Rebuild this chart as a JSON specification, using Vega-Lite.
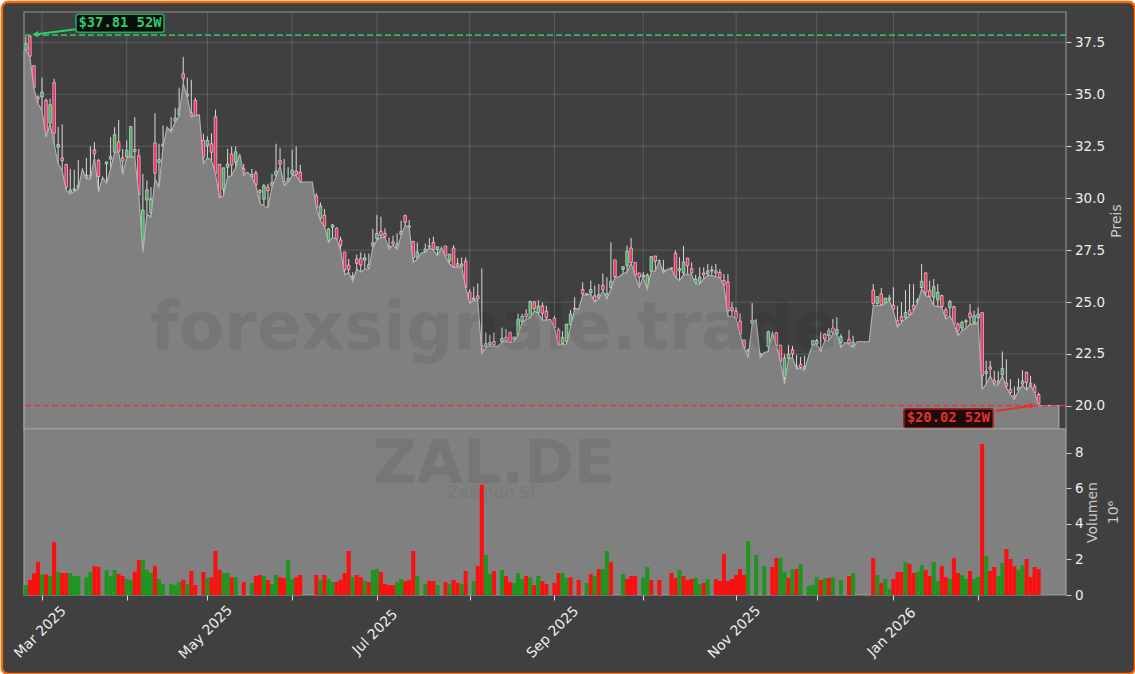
{
"$schema":"https://vega.github.io/schema/vega-lite/v6.json",
"background":"#ffffff",
"padding":0,
"spacing":0,
"bounds":"flush",
"config":{"view":{"stroke":null},"font":"DejaVu Sans"},
"datasets":{"days":[
{"i":-0.46,"l":37.12},
{"i":0,"o":37.12,"h":37.79,"l":37.12,"c":37.44,"v":0.56,"d":"up"},
{"i":1,"o":37.79,"h":37.81,"l":36.8,"c":36.83,"v":0.85,"d":"down"},
{"i":2,"o":36.38,"h":36.4,"l":35.27,"c":35.32,"v":1.22,"d":"down"},
{"i":3,"o":34.87,"h":34.95,"l":34.55,"c":34.77,"v":1.86,"d":"down"},
{"i":4,"o":34.87,"h":35.8,"l":34.22,"c":35.11,"v":1.16,"d":"up"},
{"i":5,"o":34.71,"h":34.79,"l":32.94,"c":32.94,"v":1.16,"d":"down"},
{"i":6,"o":33.61,"h":34.79,"l":33.58,"c":34.5,"v":1.07,"d":"up"},
{"i":7,"o":35.56,"h":35.75,"l":32.62,"c":33.13,"v":2.98,"d":"down"},
{"i":8,"o":32.45,"h":33.42,"l":31.65,"c":32.58,"v":1.3,"d":"up"},
{"i":9,"o":31.94,"h":33.55,"l":31.33,"c":31.81,"v":1.24,"d":"down"},
{"i":10,"o":31.62,"h":31.65,"l":30.36,"c":30.53,"v":1.24,"d":"down"},
{"i":11,"o":30.3,"h":31.41,"l":30.2,"c":30.4,"v":1.24,"d":"up"},
{"i":12,"o":30.38,"h":31.36,"l":30.33,"c":30.45,"v":1.07,"d":"up"},
{"i":13,"o":30.5,"h":31.84,"l":30.44,"c":30.62,"v":1.07,"d":"up"},
{"i":14,"l":31.41},
{"i":15,"o":31,"h":31.94,"l":30.93,"c":31.1,"v":1,"d":"up"},
{"i":16,"o":31,"h":32.49,"l":30.93,"c":31.1,"v":1.3,"d":"up"},
{"i":17,"o":32.33,"h":32.7,"l":31.97,"c":32.13,"v":1.63,"d":"down"},
{"i":18,"o":31.81,"h":31.89,"l":30.28,"c":31.04,"v":1.58,"d":"down"},
{"i":19,"l":31.01},
{"i":20,"o":31.65,"h":31.75,"l":30.72,"c":31.75,"v":1.41,"d":"up"},
{"i":21,"o":31.88,"h":32.94,"l":31.41,"c":32,"v":1.07,"d":"up"},
{"i":22,"o":32.21,"h":33.42,"l":32.21,"c":33.05,"v":1.41,"d":"up"},
{"i":23,"o":32.71,"h":33.77,"l":32.21,"c":32.26,"v":1.18,"d":"down"},
{"i":24,"o":31.94,"h":32.37,"l":31.14,"c":31.78,"v":1.07,"d":"down"},
{"i":25,"o":32,"h":32.78,"l":31.97,"c":32.29,"v":0.9,"d":"up"},
{"i":26,"o":32,"h":33.45,"l":32,"c":33.45,"v":0.85,"d":"up"},
{"i":27,"o":32.34,"h":33.9,"l":31.97,"c":32.25,"v":1.3,"d":"down"},
{"i":28,"o":32.04,"h":32.37,"l":30.12,"c":30.16,"v":1.97,"d":"down"},
{"i":29,"o":27.98,"h":31.17,"l":27.39,"c":29.43,"v":1.97,"d":"up"},
{"i":30,"o":29.91,"h":30.85,"l":29.24,"c":30.4,"v":1.41,"d":"up"},
{"i":31,"o":29.29,"h":30.53,"l":29.08,"c":29.96,"v":1.24,"d":"up"},
{"i":32,"o":32.66,"h":34.09,"l":30.93,"c":31.2,"v":1.63,"d":"down"},
{"i":33,"o":31.73,"h":32.62,"l":30.53,"c":31.86,"v":0.9,"d":"up"},
{"i":34,"o":32.5,"h":33.5,"l":32.45,"c":32.6,"v":0.62,"d":"up"},
{"i":35,"l":33.42},
{"i":36,"o":33.2,"h":33.9,"l":33.18,"c":33.3,"v":0.62,"d":"up"},
{"i":37,"o":33.7,"h":34.35,"l":33.66,"c":33.85,"v":0.56,"d":"up"},
{"i":38,"o":34,"h":35.32,"l":33.98,"c":34.3,"v":0.73,"d":"up"},
{"i":39,"o":35.99,"h":36.8,"l":35.51,"c":35.75,"v":0.85,"d":"down"},
{"i":40,"o":34.9,"h":35.8,"l":34.87,"c":35,"v":0.62,"d":"up"},
{"i":41,"o":34.1,"h":35.7,"l":33.9,"c":33.95,"v":1.35,"d":"down"},
{"i":42,"o":34.71,"h":34.83,"l":33.98,"c":33.98,"v":0.56,"d":"down"},
{"i":43,"l":34.01},
{"i":44,"o":32.78,"h":33.1,"l":31.68,"c":31.97,"v":1.3,"d":"down"},
{"i":45,"o":32.52,"h":32.97,"l":31.94,"c":32.78,"v":0.96,"d":"up"},
{"i":46,"o":32.62,"h":33.13,"l":31.81,"c":32.21,"v":1,"d":"down"},
{"i":47,"o":33.92,"h":34.26,"l":31.17,"c":31.17,"v":2.48,"d":"down"},
{"i":48,"o":31.62,"h":31.65,"l":30.01,"c":30.09,"v":1.41,"d":"down"},
{"i":49,"o":30.44,"h":31.46,"l":30.12,"c":31.46,"v":1.24,"d":"up"},
{"i":50,"o":31.49,"h":32.37,"l":31.01,"c":31.65,"v":1.24,"d":"up"},
{"i":51,"o":32.13,"h":32.49,"l":31.09,"c":31.59,"v":1,"d":"down"},
{"i":52,"o":31.73,"h":32.49,"l":31.49,"c":32.23,"v":1,"d":"up"},
{"i":53,"l":32.13},
{"i":54,"o":31.41,"h":31.65,"l":31.09,"c":31.22,"v":0.73,"d":"down"},
{"i":55,"l":31.25},
{"i":56,"o":31.01,"h":31.41,"l":31.01,"c":31.14,"v":0.68,"d":"up"},
{"i":57,"o":31.22,"h":31.33,"l":30.62,"c":30.62,"v":1.07,"d":"down"},
{"i":58,"o":30.36,"h":30.44,"l":29.75,"c":30.28,"v":1.13,"d":"down"},
{"i":59,"o":29.95,"h":30.69,"l":29.64,"c":30.59,"v":1.07,"d":"up"},
{"i":60,"o":30.53,"h":30.69,"l":29.53,"c":30.36,"v":0.85,"d":"down"},
{"i":61,"o":30.6,"h":31.17,"l":30.53,"c":30.75,"v":0.62,"d":"up"},
{"i":62,"o":31.1,"h":32.62,"l":31.01,"c":31.3,"v":1.13,"d":"up"},
{"i":63,"o":31.8,"h":32.41,"l":31.57,"c":31.65,"v":1,"d":"down"},
{"i":64,"o":30.8,"h":31.89,"l":30.61,"c":30.65,"v":0.96,"d":"down"},
{"i":65,"o":30.8,"h":31.49,"l":30.77,"c":30.95,"v":1.97,"d":"up"},
{"i":66,"o":31.15,"h":32.33,"l":31.09,"c":31.35,"v":0.9,"d":"up"},
{"i":67,"o":31.3,"h":32.49,"l":31.09,"c":31.15,"v":1,"d":"down"},
{"i":68,"o":31.25,"h":31.6,"l":30.77,"c":30.77,"v":1.13,"d":"down"},
{"i":69,"l":30.78},
{"i":70,"l":30.78},
{"i":71,"l":30.78},
{"i":72,"o":30.11,"h":30.24,"l":29.51,"c":29.51,"v":1.13,"d":"down"},
{"i":73,"o":29.03,"h":29.8,"l":28.92,"c":29.63,"v":0.85,"d":"up"},
{"i":74,"o":29.19,"h":29.48,"l":28.65,"c":28.65,"v":1.13,"d":"down"},
{"i":75,"o":27.95,"h":28.56,"l":27.87,"c":28.52,"v":0.9,"d":"up"},
{"i":76,"o":28.6,"h":28.76,"l":28.11,"c":28.71,"v":0.73,"d":"up"},
{"i":77,"o":28.56,"h":28.6,"l":28.03,"c":28.03,"v":0.73,"d":"down"},
{"i":78,"o":27.99,"h":28.15,"l":27.5,"c":27.73,"v":0.85,"d":"down"},
{"i":79,"o":27.41,"h":27.41,"l":26.31,"c":26.54,"v":1.24,"d":"down"},
{"i":80,"o":26.78,"h":27.07,"l":26.43,"c":26.57,"v":2.48,"d":"down"},
{"i":81,"o":26.2,"h":26.43,"l":25.99,"c":26.25,"v":1,"d":"up"},
{"i":82,"o":27.07,"h":27.28,"l":26.59,"c":26.86,"v":1.13,"d":"down"},
{"i":83,"o":27.1,"h":27.39,"l":26.44,"c":26.78,"v":1,"d":"down"},
{"i":84,"o":27.02,"h":27.34,"l":26.59,"c":27.13,"v":0.8,"d":"up"},
{"i":85,"o":26.8,"h":27.34,"l":26.59,"c":26.65,"v":0.73,"d":"down"},
{"i":86,"o":27.7,"h":28.52,"l":27.63,"c":27.85,"v":1.41,"d":"up"},
{"i":87,"o":28.05,"h":29.19,"l":27.99,"c":28.3,"v":1.47,"d":"up"},
{"i":88,"o":28.4,"h":29.11,"l":28.11,"c":28.2,"v":1.3,"d":"down"},
{"i":89,"o":28.3,"h":28.55,"l":28.11,"c":28.15,"v":0.62,"d":"down"},
{"i":90,"o":27.7,"h":28.11,"l":27.55,"c":27.6,"v":0.56,"d":"down"},
{"i":91,"o":27.9,"h":28.2,"l":27.76,"c":27.8,"v":0.56,"d":"down"},
{"i":92,"o":27.6,"h":28.31,"l":27.55,"c":27.8,"v":0.73,"d":"up"},
{"i":93,"o":28.25,"h":28.92,"l":28.2,"c":28.4,"v":0.9,"d":"up"},
{"i":94,"o":29.16,"h":29.21,"l":28.68,"c":28.84,"v":0.79,"d":"down"},
{"i":95,"o":28.66,"h":28.95,"l":28.6,"c":28.6,"v":0.85,"d":"down"},
{"i":96,"o":27.91,"h":27.95,"l":26.91,"c":27.12,"v":2.48,"d":"down"},
{"i":97,"o":27.15,"h":27.87,"l":27.07,"c":27.41,"v":1.07,"d":"up"},
{"i":98,"l":27.36},
{"i":99,"o":27.4,"h":27.82,"l":27.39,"c":27.55,"v":0.62,"d":"up"},
{"i":100,"o":27.7,"h":28.08,"l":27.6,"c":27.65,"v":0.79,"d":"down"},
{"i":101,"o":27.87,"h":28.15,"l":27.5,"c":27.53,"v":0.79,"d":"down"},
{"i":102,"o":27.53,"h":27.66,"l":27.23,"c":27.66,"v":0.56,"d":"up"},
{"i":103,"l":27.63},
{"i":104,"o":27.7,"h":27.7,"l":27.18,"c":27.21,"v":0.73,"d":"down"},
{"i":105,"o":26.99,"h":27.31,"l":26.83,"c":27.31,"v":0.62,"d":"up"},
{"i":106,"o":27.6,"h":27.74,"l":26.67,"c":26.7,"v":0.85,"d":"down"},
{"i":107,"o":26.85,"h":27.12,"l":26.67,"c":26.75,"v":0.68,"d":"down"},
{"i":108,"o":26.72,"h":27.15,"l":26.7,"c":26.83,"v":0.62,"d":"up"},
{"i":109,"o":26.97,"h":27.15,"l":25.7,"c":25.7,"v":1.35,"d":"down"},
{"i":110,"o":25.48,"h":25.62,"l":24.95,"c":24.95},
{"i":111,"o":25.1,"h":25.73,"l":25.06,"c":25.2,"v":0.79,"d":"up"},
{"i":112,"o":25.3,"h":25.9,"l":25.06,"c":25.15,"v":1.63,"d":"down"},
{"i":113,"o":22.9,"h":26.62,"l":22.52,"c":22.7,"v":6.2,"d":"down"},
{"i":114,"o":22.85,"h":23.53,"l":22.81,"c":23,"v":2.25,"d":"up"},
{"i":115,"o":22.95,"h":23.42,"l":22.89,"c":23.05,"v":1.18,"d":"up"},
{"i":116,"o":23.1,"h":23.53,"l":22.87,"c":22.95,"v":1.35,"d":"down"},
{"i":117,"l":22.87},
{"i":118,"o":23.1,"h":23.77,"l":23.07,"c":23.25,"v":1.41,"d":"up"},
{"i":119,"o":23.3,"h":23.69,"l":23.1,"c":23.15,"v":1.07,"d":"down"},
{"i":120,"o":23.55,"h":23.57,"l":23.05,"c":23.05,"v":0.73,"d":"down"},
{"i":121,"o":23.19,"h":23.32,"l":23.1,"c":23.32,"v":0.68,"d":"up"},
{"i":122,"o":23.42,"h":24.45,"l":23.42,"c":24.18,"v":1.24,"d":"up"},
{"i":123,"o":24.06,"h":24.45,"l":24.02,"c":24.32,"v":0.9,"d":"up"},
{"i":124,"o":24.43,"h":24.66,"l":24.17,"c":24.29,"v":1.07,"d":"down"},
{"i":125,"o":24.22,"h":25.06,"l":24.22,"c":25.03,"v":1,"d":"up"},
{"i":126,"o":25,"h":25.06,"l":24.58,"c":24.69,"v":0.56,"d":"down"},
{"i":127,"o":24.5,"h":25.09,"l":24.45,"c":24.8,"v":1.07,"d":"up"},
{"i":128,"o":24.82,"h":24.98,"l":24.13,"c":24.46,"v":0.79,"d":"down"},
{"i":129,"o":24.56,"h":24.82,"l":24.13,"c":24.26,"v":0.62,"d":"down"},
{"i":130,"l":24.17},
{"i":131,"o":24.22,"h":24.34,"l":23.77,"c":23.77,"v":0.68,"d":"down"},
{"i":132,"o":23.66,"h":23.77,"l":22.92,"c":22.97,"v":1.24,"d":"down"},
{"i":133,"o":23,"h":23.6,"l":22.97,"c":23.3,"v":1.24,"d":"up"},
{"i":134,"o":23.1,"h":23.94,"l":22.98,"c":23.94,"v":0.96,"d":"up"},
{"i":135,"o":23.91,"h":24.62,"l":23.81,"c":24.42,"v":1,"d":"down"},
{"i":136,"o":24.7,"h":25.23,"l":24.66,"c":24.65},
{"i":137,"o":24.68,"h":24.7,"l":24.66,"c":24.66,"v":0.85,"d":"down"},
{"i":138,"o":25.6,"h":25.95,"l":25.34,"c":25.4},
{"i":139,"o":25.38,"h":25.4,"l":25.34,"c":25.4,"v":0.68,"d":"up"},
{"i":140,"o":25.45,"h":26.03,"l":25.39,"c":25.6,"v":1.18,"d":"down"},
{"i":141,"o":25.3,"h":25.79,"l":24.99,"c":25.05,"v":1.07,"d":"up"},
{"i":142,"o":25.2,"h":25.87,"l":25.15,"c":25.35,"v":1.46,"d":"down"},
{"i":143,"o":25.8,"h":26.38,"l":25.55,"c":25.6,"v":1.46,"d":"up"},
{"i":144,"o":25.2,"h":26.19,"l":25.15,"c":25.4,"v":2.48,"d":"up"},
{"i":145,"o":25.7,"h":27.88,"l":25.63,"c":26,"v":1.86,"d":"down"},
{"i":146,"o":27.03,"h":27.03,"l":26.19,"c":26.22},
{"i":147,"l":26.22},
{"i":148,"o":26.58,"h":26.7,"l":26.38,"c":26.7,"v":1.18,"d":"up"},
{"i":149,"o":26.75,"h":27.72,"l":26.43,"c":27.45,"v":0.9,"d":"down"},
{"i":150,"o":27.6,"h":28.09,"l":26.87,"c":26.91,"v":1.07,"d":"down"},
{"i":151,"o":26.9,"h":26.9,"l":26.27,"c":26.29,"v":1.07,"d":"down"},
{"i":152,"o":26.4,"h":26.4,"l":25.71,"c":26.19},
{"i":153,"o":26.2,"h":26.45,"l":26.2,"c":26.3,"v":1,"d":"up"},
{"i":154,"o":25.76,"h":26.38,"l":25.63,"c":26.3,"v":1.58,"d":"up"},
{"i":155,"o":26.48,"h":27.19,"l":26.48,"c":27.19,"v":0.85,"d":"down"},
{"i":156,"o":27.22,"h":27.22,"l":26.48,"c":26.96},
{"i":157,"o":26.99,"h":27,"l":26.99,"c":27,"v":0.85,"d":"down"},
{"i":158,"o":26.45,"h":27.03,"l":26.4,"c":26.55},
{"i":159,"l":26.59},
{"i":160,"o":26.65,"h":26.65,"l":26.59,"c":26.6,"v":1.24,"d":"down"},
{"i":161,"o":27.35,"h":27.48,"l":26.19,"c":26.19,"v":0.96,"d":"down"},
{"i":162,"o":26.51,"h":27.16,"l":26.03,"c":26.61,"v":1.41,"d":"up"},
{"i":163,"o":26.4,"h":27.7,"l":26.32,"c":26.93,"v":1.07,"d":"down"},
{"i":164,"o":27.12,"h":27.12,"l":26.35,"c":26.75,"v":0.85,"d":"down"},
{"i":165,"o":26.6,"h":26.91,"l":26.32,"c":26.4,"v":0.9,"d":"down"},
{"i":166,"o":25.9,"h":26.32,"l":25.87,"c":26.1,"v":0.96,"d":"up"},
{"i":167,"o":25.95,"h":26.67,"l":25.87,"c":26.2,"v":0.62,"d":"up"},
{"i":168,"o":26.4,"h":26.67,"l":26.11,"c":26.3,"v":0.68,"d":"down"},
{"i":169,"o":26.35,"h":26.83,"l":26.27,"c":26.5,"v":0.9,"d":"up"},
{"i":170,"o":26.5,"h":26.75,"l":26.27,"c":26.55},
{"i":171,"o":26.5,"h":26.83,"l":26.22,"c":26.4,"v":0.9,"d":"down"},
{"i":172,"o":26.42,"h":26.59,"l":26.16,"c":26.16,"v":0.79,"d":"down"},
{"i":173,"o":26.03,"h":26.35,"l":25.8,"c":25.8,"v":2.31,"d":"down"},
{"i":174,"o":25.97,"h":26.35,"l":24.29,"c":24.58,"v":0.79,"d":"down"},
{"i":175,"o":24.73,"h":24.99,"l":24.34,"c":24.58,"v":0.9,"d":"down"},
{"i":176,"o":24.57,"h":24.74,"l":24.21,"c":24.21,"v":1.13,"d":"down"},
{"i":177,"o":24.08,"h":24.45,"l":23.44,"c":23.44,"v":1.46,"d":"down"},
{"i":178,"o":23.17,"h":23.17,"l":22.81,"c":22.81,"v":1.13,"d":"down"},
{"i":179,"o":22.62,"h":22.72,"l":22.33,"c":22.72,"v":3.04,"d":"up"},
{"i":180,"o":23.97,"h":24.95,"l":23.94,"c":24.13},
{"i":181,"l":24.15,"v":2.25,"d":"up"},
{"i":182,"o":22.4,"h":22.53,"l":22.33,"c":22.53},
{"i":183,"l":22.57,"v":1.63,"d":"up"},
{"i":184,"o":22.86,"h":23.62,"l":22.62,"c":23.57},
{"i":185,"l":23.54,"v":1.58,"d":"down"},
{"i":186,"o":23.52,"h":23.57,"l":22.91,"c":22.91,"v":2.08,"d":"down"},
{"i":187,"o":22.93,"h":22.93,"l":22.14,"c":22.14,"v":2.08,"d":"up"},
{"i":188,"o":21.37,"h":22.49,"l":21.05,"c":22.3,"v":1.3,"d":"up"},
{"i":189,"o":22.3,"h":22.93,"l":22.25,"c":22.5,"v":0.96,"d":"down"},
{"i":190,"o":22.7,"h":22.89,"l":22.33,"c":22.5,"v":1.46,"d":"up"},
{"i":191,"o":21.8,"h":22.46,"l":21.77,"c":21.9,"v":1.46,"d":"down"},
{"i":192,"o":22,"h":22.36,"l":21.8,"c":21.85,"v":1.75,"d":"up"},
{"i":193,"o":21.8,"h":22.41,"l":21.72,"c":21.9},
{"i":194,"l":22.41,"v":0.51,"d":"up"},
{"i":195,"o":22.94,"h":23.14,"l":22.94,"c":23.14,"v":0.56,"d":"up"},
{"i":196,"o":22.98,"h":23.22,"l":22.94,"c":23.14,"v":1.01,"d":"up"},
{"i":197,"o":22.8,"h":23.57,"l":22.62,"c":22.7,"v":0.85,"d":"down"},
{"i":198,"o":23.46,"h":23.5,"l":23.14,"c":23.22,"v":0.96,"d":"up"},
{"i":199,"o":23.38,"h":23.75,"l":23.14,"c":23.62,"v":0.96,"d":"down"},
{"i":200,"o":23.75,"h":24.18,"l":23.46,"c":23.54,"v":1.01,"d":"up"},
{"i":201,"o":23.46,"h":24.26,"l":23.46,"c":23.68},
{"i":202,"o":23.06,"h":23.46,"l":22.81,"c":23.33,"v":0.85,"d":"up"},
{"i":203,"l":23.06},
{"i":204,"o":23.2,"h":23.65,"l":22.97,"c":23.01,"v":1.07,"d":"down"},
{"i":205,"o":22.9,"h":23.38,"l":22.81,"c":23.06,"v":1.24,"d":"up"},
{"i":206,"l":23.09},
{"i":207,"l":23.09},
{"i":208,"l":23.09},
{"i":209,"l":23.09},
{"i":210,"o":25.58,"h":25.87,"l":24.82,"c":24.94,"v":2.08,"d":"down"},
{"i":211,"o":24.94,"h":25.26,"l":24.82,"c":25.26,"v":1.13,"d":"up"},
{"i":212,"o":25.39,"h":25.68,"l":24.82,"c":24.87,"v":0.68,"d":"down"},
{"i":213,"o":24.94,"h":25.19,"l":24.94,"c":25.19,"v":0.9,"d":"up"},
{"i":214,"o":25.1,"h":25.35,"l":25.07,"c":25.2,"v":0.34,"d":"up"},
{"i":215,"o":24.85,"h":25.71,"l":24.58,"c":24.65,"v":0.9,"d":"down"},
{"i":216,"o":24.1,"h":24.82,"l":23.78,"c":23.9,"v":1.3,"d":"down"},
{"i":217,"o":24.3,"h":24.99,"l":24.02,"c":24.1,"v":1.3,"d":"down"},
{"i":218,"o":24.25,"h":25.58,"l":24.18,"c":24.5,"v":1.86,"d":"up"},
{"i":219,"o":24.6,"h":25.87,"l":24.34,"c":24.4,"v":1.75,"d":"down"},
{"i":220,"o":24.85,"h":25.87,"l":24.58,"c":24.65,"v":1.24,"d":"down"},
{"i":221,"o":24.96,"h":25.19,"l":24.94,"c":25.08,"v":1.3,"d":"up"},
{"i":222,"o":25.7,"h":26.83,"l":25.63,"c":26,"v":1.69,"d":"up"},
{"i":223,"o":26.4,"h":26.43,"l":25.31,"c":25.47,"v":1.41,"d":"down"},
{"i":224,"o":25.55,"h":26.03,"l":25.23,"c":25.27,"v":1.07,"d":"down"},
{"i":225,"o":25.23,"h":26.11,"l":24.82,"c":25.74,"v":1.86,"d":"up"},
{"i":226,"o":25.1,"h":25.87,"l":24.79,"c":25.47,"v":0.79,"d":"up"},
{"i":227,"o":25.31,"h":25.35,"l":24.74,"c":24.78,"v":1.63,"d":"down"},
{"i":228,"o":24.63,"h":24.74,"l":24.18,"c":24.34,"v":1.01,"d":"down"},
{"i":229,"o":24.74,"h":25.1,"l":24.34,"c":25.02,"v":0.9,"d":"up"},
{"i":230,"o":24.78,"h":24.82,"l":23.94,"c":23.94,"v":2.08,"d":"down"},
{"i":231,"o":23.94,"h":24.02,"l":23.38,"c":23.62,"v":1.24,"d":"down"},
{"i":232,"o":23.75,"h":24.1,"l":23.62,"c":24.02,"v":1.13,"d":"up"},
{"i":233,"o":24.04,"h":24.18,"l":23.75,"c":24.1,"v":0.9,"d":"up"},
{"i":234,"o":24.47,"h":24.9,"l":23.94,"c":24.26,"v":1.35,"d":"down"},
{"i":235,"o":24.02,"h":24.58,"l":23.94,"c":24.34,"v":0.9,"d":"up"},
{"i":236,"o":24.26,"h":24.74,"l":24.02,"c":24.42,"v":1.01,"d":"up"},
{"i":237,"o":24.49,"h":24.49,"l":20.8,"c":21.45,"v":8.5,"d":"down"},
{"i":238,"o":21.56,"h":22.17,"l":21.05,"c":21.67,"v":2.2,"d":"up"},
{"i":239,"o":21.88,"h":22.17,"l":21.45,"c":21.77,"v":1.35,"d":"down"},
{"i":240,"o":21.25,"h":21.69,"l":21,"c":21.1,"v":1.58,"d":"down"},
{"i":241,"o":21.05,"h":21.66,"l":21.01,"c":21.2,"v":1.07,"d":"up"},
{"i":242,"o":21.5,"h":22.62,"l":21.45,"c":21.8,"v":1.8,"d":"up"},
{"i":243,"o":21.1,"h":22.25,"l":20.88,"c":20.95,"v":2.59,"d":"down"},
{"i":244,"o":20.8,"h":21.29,"l":20.56,"c":20.65,"v":2.03,"d":"down"},
{"i":245,"o":20.5,"h":20.93,"l":20.32,"c":20.4,"v":1.63,"d":"down"},
{"i":246,"o":20.75,"h":21.33,"l":20.72,"c":20.9,"v":1.41,"d":"up"},
{"i":247,"o":21.05,"h":21.72,"l":21.01,"c":21.2,"v":1.69,"d":"up"},
{"i":248,"o":21.62,"h":21.65,"l":20.76,"c":21.13,"v":2.03,"d":"down"},
{"i":249,"o":21.09,"h":21.45,"l":21,"c":21,"v":1.01,"d":"down"},
{"i":250,"o":20.95,"h":21.07,"l":20.64,"c":20.64,"v":1.58,"d":"down"},
{"i":251,"o":20.55,"h":20.64,"l":20.02,"c":20.11,"v":1.46,"d":"down"},
{"i":252,"l":20.02},
{"i":253,"l":20.02},
{"i":254,"l":20.02},
{"i":255,"l":20.02},
{"i":256,"l":20.02}
]},
"vconcat":[
{"width":1042,"height":417,"layer":[
{"data":{"values":[{"x0":-5.913,"x1":274.88,"y0":39.44,"y1":7.1}]},
"mark":{"type":"rect","fill":"#404040","stroke":"#ff6600","strokeWidth":2.4,"cornerRadius":6},
"encoding":{"x":{"field":"x0","type":"quantitative","axis":null,"scale":{"domain":[-0.46,257.78],"nice":false,"zero":false,"padding":0}},"x2":{"field":"x1"},
"y":{"field":"y0","type":"quantitative","scale":{"domain":[18.89,38.96],"nice":false,"zero":false},"axis":{"orient":"right","zindex":1,"title":"Preis","titleColor":"#c8c8c8","titleFontSize":14,"titleFontWeight":"normal","titleAngle":270,"titlePadding":19,"values":[20,22.5,25,27.5,30,32.5,35,37.5],"format":".1f","labelColor":"#eeeeee","labelFontSize":13.5,"labelPadding":3.5,"tickColor":"#cccccc","tickSize":5,"domain":false,"grid":false,"labelOverlap":false}},"y2":{"field":"y1"}}},
{"data":{"values":[{"p":20},{"p":22.5},{"p":25},{"p":27.5},{"p":30},{"p":32.5},{"p":35},{"p":37.5}]},
"mark":{"type":"rule","color":"#ffffff","opacity":0.15,"strokeWidth":1},
"encoding":{"y":{"field":"p","type":"quantitative","scale":{"domain":[18.89,38.96],"nice":false,"zero":false}}}},
{"data":{"values":[{"t":4},{"t":25},{"t":45},{"t":66},{"t":87},{"t":110},{"t":131},{"t":153},{"t":176},{"t":196},{"t":215},{"t":236}]},
"mark":{"type":"rule","color":"#ffffff","opacity":0.15,"strokeWidth":1},
"encoding":{"x":{"field":"t","type":"quantitative","axis":null,"scale":{"domain":[-0.46,257.78],"nice":false,"zero":false,"padding":0}}}},
{"data":{"name":"days"},"transform":[{"filter":"isValid(datum.h)"}],
"mark":{"type":"rule","color":"#d9d9d9","strokeWidth":1},
"encoding":{"x":{"field":"i","type":"quantitative","axis":null,"scale":{"domain":[-0.46,257.78],"nice":false,"zero":false,"padding":0}},
"y":{"field":"h","type":"quantitative","scale":{"domain":[18.89,38.96],"nice":false,"zero":false}},"y2":{"field":"l"}}},
{"data":{"name":"days"},"transform":[{"filter":"isValid(datum.h)"}],
"mark":{"type":"bar","orient":"vertical","size":2.6,"stroke":"#f0f0f0","strokeWidth":0.6},
"encoding":{"x":{"field":"i","type":"quantitative","axis":null,"scale":{"domain":[-0.46,257.78],"nice":false,"zero":false,"padding":0}},
"y":{"field":"o","type":"quantitative","scale":{"domain":[18.89,38.96],"nice":false,"zero":false}},"y2":{"field":"c"},
"fill":{"condition":{"test":"datum.c>=datum.o","value":"#3fae5a"},"value":"#f5285a"}}},
{"data":{"name":"days"},
"mark":{"type":"area","fill":"#808080","stroke":"#b4b4b4","strokeWidth":1.1},
"encoding":{"x":{"field":"i","type":"quantitative","axis":null,"scale":{"domain":[-0.46,257.78],"nice":false,"zero":false,"padding":0}},
"y":{"field":"l","type":"quantitative","scale":{"domain":[18.89,38.96],"nice":false,"zero":false}},"y2":{"datum":18.89}}},
{"data":{"values":[{"t":"forexsignale.trade","i":116,"p":22.75}]},
"mark":{"type":"text","font":"DejaVu Sans","fontWeight":"bold","fontSize":66,"align":"center","baseline":"alphabetic","color":"#000000","opacity":0.07},
"encoding":{"text":{"field":"t"},"x":{"field":"i","type":"quantitative","axis":null,"scale":{"domain":[-0.46,257.78],"nice":false,"zero":false,"padding":0}},
"y":{"field":"p","type":"quantitative","scale":{"domain":[18.89,38.96],"nice":false,"zero":false}}}},
{"data":{"values":[{"p":37.85,"k":"hi"},{"p":20.02,"k":"lo"}]},
"mark":{"type":"rule","strokeWidth":1.7,"strokeDash":[6,3],"opacity":0.85},
"encoding":{"y":{"field":"p","type":"quantitative","scale":{"domain":[18.89,38.96],"nice":false,"zero":false}},
"color":{"field":"k","type":"nominal","legend":null,"scale":{"domain":["hi","lo"],"range":["#2ecc71","#e8302a"]}}}},
{"data":{"values":[{"a":12.4,"b":2.5,"p":38.13,"q":37.89,"k":"hi"},{"a":240.4,"b":249,"p":19.76,"q":20,"k":"lo"}]},
"mark":{"type":"rule","strokeWidth":2},
"encoding":{"x":{"field":"a","type":"quantitative","axis":null,"scale":{"domain":[-0.46,257.78],"nice":false,"zero":false,"padding":0}},"x2":{"field":"b"},
"y":{"field":"p","type":"quantitative","scale":{"domain":[18.89,38.96],"nice":false,"zero":false}},"y2":{"field":"q"},
"color":{"field":"k","type":"nominal","legend":null,"scale":{"domain":["hi","lo"],"range":["#2ecc71","#e8302a"]}}}},
{"data":{"values":[{"a":2.3,"q":37.89,"k":"hi"},{"a":249.4,"q":20,"k":"lo"}]},
"mark":{"type":"point","filled":true,"opacity":1,"size":45},
"encoding":{"x":{"field":"a","type":"quantitative","axis":null,"scale":{"domain":[-0.46,257.78],"nice":false,"zero":false,"padding":0}},
"y":{"field":"q","type":"quantitative","scale":{"domain":[18.89,38.96],"nice":false,"zero":false}},
"shape":{"field":"k","type":"nominal","legend":null,"scale":{"domain":["hi","lo"],"range":["triangle-left","triangle-right"]}},
"color":{"field":"k","type":"nominal","legend":null,"scale":{"domain":["hi","lo"],"range":["#2ecc71","#e8302a"]}}}},
{"data":{"values":[{"a":12.43,"b":34.24,"p":38.85,"q":37.98,"k":"hi"},{"a":217.6,"b":239.7,"p":19.86,"q":18.94,"k":"lo"}]},
"mark":{"type":"rect","strokeWidth":1.6,"cornerRadius":2.5},
"encoding":{"x":{"field":"a","type":"quantitative","axis":null,"scale":{"domain":[-0.46,257.78],"nice":false,"zero":false,"padding":0}},"x2":{"field":"b"},
"y":{"field":"p","type":"quantitative","scale":{"domain":[18.89,38.96],"nice":false,"zero":false}},"y2":{"field":"q"},
"fill":{"field":"k","type":"nominal","legend":null,"scale":{"domain":["hi","lo"],"range":["#0b0f0c","#1e0b0b"]}},
"stroke":{"field":"k","type":"nominal","legend":null,"scale":{"domain":["hi","lo"],"range":["#23a55a","#a02020"]}}}},
{"data":{"values":[{"t":"$37.81 52W","a":23.33,"p":38.42,"k":"hi"},{"t":"$20.02 52W","a":228.6,"p":19.4,"k":"lo"}]},
"mark":{"type":"text","font":"DejaVu Sans Mono","fontWeight":"bold","fontSize":13.8,"align":"center","baseline":"middle"},
"encoding":{"text":{"field":"t"},"x":{"field":"a","type":"quantitative","axis":null,"scale":{"domain":[-0.46,257.78],"nice":false,"zero":false,"padding":0}},
"y":{"field":"p","type":"quantitative","scale":{"domain":[18.89,38.96],"nice":false,"zero":false}},
"color":{"field":"k","type":"nominal","legend":null,"scale":{"domain":["hi","lo"],"range":["#2ecc71","#e8302a"]}}}},
{"data":{"values":[{"a":-0.46,"b":257.78,"p":38.96,"q":18.89}]},
"mark":{"type":"rect","fill":null,"stroke":"#949494","strokeWidth":1.1},
"encoding":{"x":{"field":"a","type":"quantitative","axis":null,"scale":{"domain":[-0.46,257.78],"nice":false,"zero":false,"padding":0}},"x2":{"field":"b"},
"y":{"field":"p","type":"quantitative","scale":{"domain":[18.89,38.96],"nice":false,"zero":false}},"y2":{"field":"q"}}}
]},
{"width":1042,"height":166,"layer":[
{"data":{"values":[{"a":-0.46,"b":257.78,"p":0,"q":9.35}]},
"mark":{"type":"rect","fill":"#808080","stroke":"#a0a0a0","strokeWidth":1.2},
"encoding":{"x":{"field":"a","type":"quantitative","scale":{"domain":[-0.46,257.78],"nice":false,"zero":false,"padding":0},"axis":{"zindex":1,"title":null,"values":[4,25,45,66,87,110,131,153,176,196,215,236],"labelExpr":"datum.value==4?'Mar 2025':datum.value==45?'May 2025':datum.value==87?'Jul 2025':datum.value==131?'Sep 2025':datum.value==176?'Nov 2025':datum.value==215?'Jan 2026':''","labelAngle":-45,"labelAlign":"center","labelBaseline":"middle","labelPadding":32,"labelOffset":-2,"labelColor":"#eeeeee","labelFontSize":14,"labelOverlap":false,"labelBound":false,"labelFlush":false,"tickColor":"#dddddd","tickSize":5,"domain":false,"grid":false}},"x2":{"field":"b"},
"y":{"field":"p","type":"quantitative","scale":{"domain":[0,9.35],"nice":false,"zero":false},"axis":{"orient":"right","zindex":1,"title":["Volumen","10⁶"],"titleColor":"#c8c8c8","titleFontSize":14,"titleFontWeight":"normal","titleAngle":270,"titlePadding":-5,"titleLineHeight":21,"values":[0,2,4,6,8],"format":"d","labelColor":"#eeeeee","labelFontSize":13.5,"labelPadding":3.5,"tickColor":"#cccccc","tickSize":5,"domain":false,"grid":false}},"y2":{"field":"q"}}},
{"data":{"values":[{"t":"ZAL.DE","i":116,"p":6.31}]},
"mark":{"type":"text","font":"DejaVu Sans","fontWeight":"bold","fontSize":60,"align":"center","baseline":"alphabetic","color":"#000000","opacity":0.07},
"encoding":{"text":{"field":"t"},"x":{"field":"i","type":"quantitative","scale":{"domain":[-0.46,257.78],"nice":false,"zero":false,"padding":0}},
"y":{"field":"p","type":"quantitative","scale":{"domain":[0,9.35],"nice":false,"zero":false}}}},
{"data":{"values":[{"t":"Zalando SE","i":116,"p":5.46}]},
"mark":{"type":"text","font":"DejaVu Sans","fontSize":16.5,"align":"center","baseline":"alphabetic","color":"#000000","opacity":0.06},
"encoding":{"text":{"field":"t"},"x":{"field":"i","type":"quantitative","scale":{"domain":[-0.46,257.78],"nice":false,"zero":false,"padding":0}},
"y":{"field":"p","type":"quantitative","scale":{"domain":[0,9.35],"nice":false,"zero":false}}}},
{"data":{"name":"days"},"transform":[{"filter":"isValid(datum.v)"}],
"mark":{"type":"bar","orient":"vertical","size":4.04},
"encoding":{"x":{"field":"i","type":"quantitative","scale":{"domain":[-0.46,257.78],"nice":false,"zero":false,"padding":0}},
"y":{"field":"v","type":"quantitative","scale":{"domain":[0,9.35],"nice":false,"zero":false}},
"fill":{"condition":{"test":"datum.d=='up'","value":"#1e951e"},"value":"#fb0f0f"}}}
]}
]}
